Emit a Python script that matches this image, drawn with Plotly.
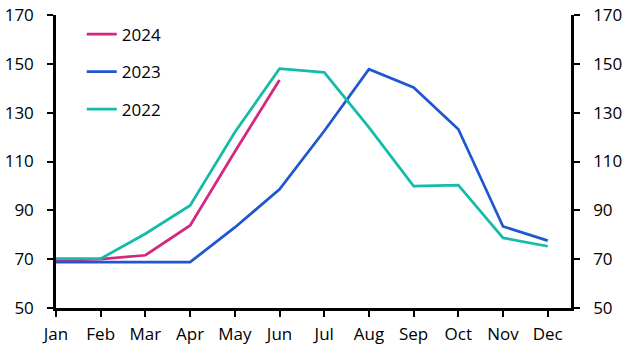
import plotly.graph_objects as go

months = ["Jan", "Feb", "Mar", "Apr", "May", "Jun", "Jul", "Aug", "Sep", "Oct", "Nov", "Dec"]
y2024 = [69.5, 70.0, 71.6, 83.8, 114.0, 143.4]
y2023 = [68.8, 68.8, 68.8, 68.8, 83.0, 98.6, 122.5, 147.8, 140.3, 123.2, 83.4, 77.6]
y2022 = [70.2, 70.2, 80.4, 92.0, 122.0, 148.0, 146.5, 124.0, 99.9, 100.3, 78.7, 75.3]
y_ticks = [50, 70, 90, 110, 130, 150, 170]

c2024 = "#d6277e"
c2023 = "#1f57d0"
c2022 = "#14bba9"
xpos = list(range(len(months)))

fig = go.Figure()
for name, vals, col in [("2024", y2024, c2024), ("2023", y2023, c2023), ("2022", y2022, c2022)]:
    fig.add_trace(go.Scatter(x=xpos[:len(vals)], y=vals, mode="lines", name=name,
                             legendgroup=name,
                             line=dict(color=col, width=2.75)))
# invisible trace so the right axis is drawn
fig.add_trace(go.Scatter(x=xpos, y=y2022, yaxis="y2", mode="lines", showlegend=False,
                         hoverinfo="skip", line=dict(width=0), opacity=0))

font = dict(family="Open Sans", size=17, color="#000000")
axis_common = dict(range=[50, 170], tickvals=y_ticks, showgrid=False, zeroline=False,
                   showline=True, linecolor="#000000", linewidth=2.5, automargin=False,
                   ticks="outside", ticklen=6, tickwidth=2, tickcolor="#000000",
                   tickfont=font, ticklabelstandoff=10, ticklabeloverflow="allow")
fig.update_layout(
    template="none",
    width=630, height=355,
    margin=dict(l=56, r=59, t=15, b=47, autoexpand=False),
    paper_bgcolor="white", plot_bgcolor="white",
    font=font,
    showlegend=True,
    legend=dict(x=0.05, y=0.995, xanchor="left", yanchor="top", bgcolor="rgba(0,0,0,0)",
                tracegroupgap=12.5, font=font),
    xaxis=dict(range=[0, 11.52], tickvals=xpos, ticktext=months, showgrid=False, zeroline=False,
               showline=True, linecolor="#000000", linewidth=2.5, automargin=False,
               ticks="outside", ticklen=6, tickwidth=2, tickcolor="#000000", tickfont=font,
               ticklabelstandoff=3, ticklabeloverflow="allow"),
    yaxis=dict(side="left", **axis_common),
    yaxis2=dict(side="right", overlaying="y", **axis_common),
)
fig.write_html("out.html", config={"displayModeBar": False},
               post_script="document.body.style.margin='0';")
